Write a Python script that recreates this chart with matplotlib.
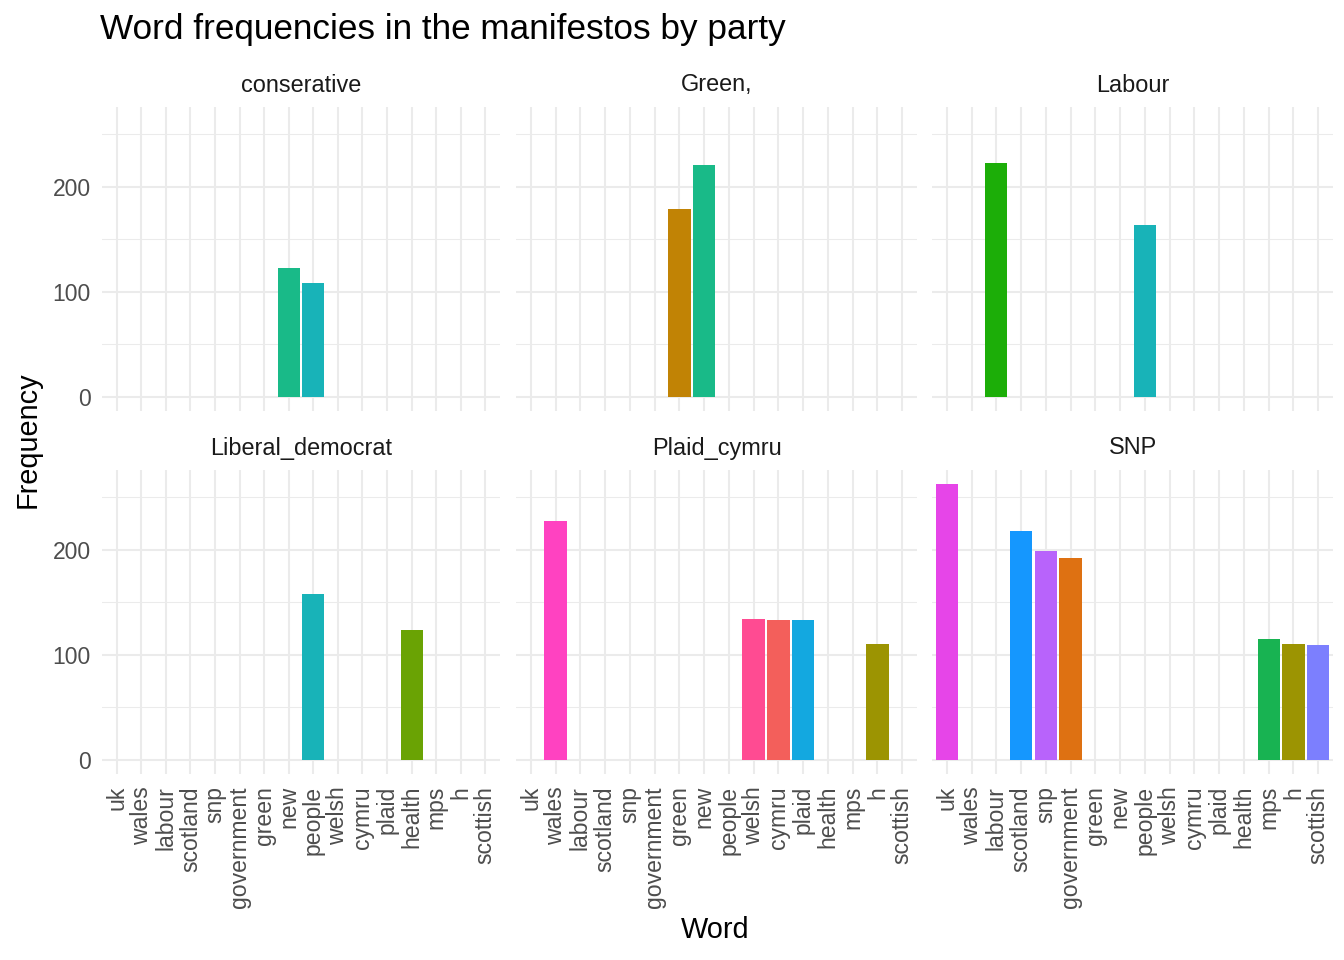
import matplotlib
matplotlib.use("Agg")
import matplotlib.pyplot as plt
import numpy as np

plt.rcParams['font.family'] = ['Liberation Sans', 'DejaVu Sans']

words = ["uk", "wales", "labour", "scotland", "snp", "government", "green", "new",
         "people", "welsh", "cymru", "plaid", "health", "mps", "h", "scottish"]

word_colors = {
    "uk": "#E645E8", "wales": "#FF42C1", "labour": "#1CAE08", "scotland": "#1597FE",
    "snp": "#B863FB", "government": "#DE7112", "green": "#C18305", "new": "#19BA88",
    "people": "#18B3B8", "welsh": "#FF4B92", "cymru": "#F35F5B", "plaid": "#13A8E0",
    "health": "#6AA304", "mps": "#18B352", "h": "#9C9402", "scottish": "#7C7FFE",
}

parties = ["conserative", "Green,", "Labour", "Liberal_democrat", "Plaid_cymru", "SNP"]

conservative_words = ["new", "people"]
conservative_freq = [123, 108]
green_words = ["green", "new"]
green_freq = [179, 221]
labour_words = ["labour", "people"]
labour_freq = [223, 164]
libdem_words = ["people", "health"]
libdem_freq = [158, 124]
plaid_words = ["wales", "welsh", "cymru", "plaid", "h"]
plaid_freq = [228, 134, 133, 133, 110]
snp_words = ["uk", "scotland", "snp", "government", "mps", "h", "scottish"]
snp_freq = [263, 218, 199, 192, 115, 110, 109]

panel_data = [
    (conservative_words, conservative_freq),
    (green_words, green_freq),
    (labour_words, labour_freq),
    (libdem_words, libdem_freq),
    (plaid_words, plaid_freq),
    (snp_words, snp_freq),
]

W, H = 1344, 960
fig = plt.figure(figsize=(W / 100, H / 100), dpi=100)

col_x = [(102, 500), (516, 917), (932, 1333)]
row_y = [(107, 410.5), (470, 773.5)]

ymax = max(max(f) for _, f in panel_data)
ylo, yhi = -0.05 * ymax, ymax * 1.05
n = len(words)
grid_col = "#EBEBEB"

for i, (party, (ws, fs)) in enumerate(zip(parties, panel_data)):
    r, c = divmod(i, 3)
    x0, x1 = col_x[c]
    y0, y1 = row_y[r]
    ax = fig.add_axes([x0 / W, 1 - y1 / H, (x1 - x0) / W, (y1 - y0) / H])
    pos = [words.index(w) for w in ws]
    ax.bar(pos, fs, width=0.9, color=[word_colors[w] for w in ws], zorder=3)
    ax.set_xlim(-0.6, n - 0.4)
    ax.set_ylim(ylo, yhi)
    for s in ax.spines.values():
        s.set_visible(False)
    ax.set_xticks(range(n))
    ax.set_yticks([0, 100, 200])
    ax.set_yticks([50, 150, 250], minor=True)
    ax.grid(True, which='major', color=grid_col, linewidth=1.5, zorder=0)
    ax.grid(True, which='minor', axis='y', color=grid_col, linewidth=0.75, zorder=0)
    ax.tick_params(which='both', length=0)
    ax.tick_params(axis='y', labelsize=16.5, labelcolor='#4D4D4D', pad=8)
    if c == 0:
        ax.set_yticklabels(["0", "100", "200"])
    else:
        ax.set_yticklabels([])
    if r == 1:
        ax.set_xticklabels(words, rotation=90, fontsize=16.6, color='#4D4D4D', va='top', ha='center')
        ax.tick_params(axis='x', pad=9)
    else:
        ax.set_xticklabels([])
    ax.set_facecolor('none')
    fig.text((x0 + x1) / 2 / W, 1 - (y0 - 22) / H, party, ha='center', va='center',
             fontsize=16.9, color='#1A1A1A')

fig.text(100 / W, 1 - 30 / H, "Word frequencies in the manifestos by party", ha='left',
         va='center', fontsize=25.3, color='black')
fig.text(715 / W, 1 - 930 / H, "Word", ha='center', va='center', fontsize=20.8, color='black')
fig.text(28 / W, 1 - 440 / H, "Frequency", ha='center', va='center', rotation=90,
         fontsize=20.8, color='black')

fig.savefig("out.png", dpi=100, facecolor='white')
